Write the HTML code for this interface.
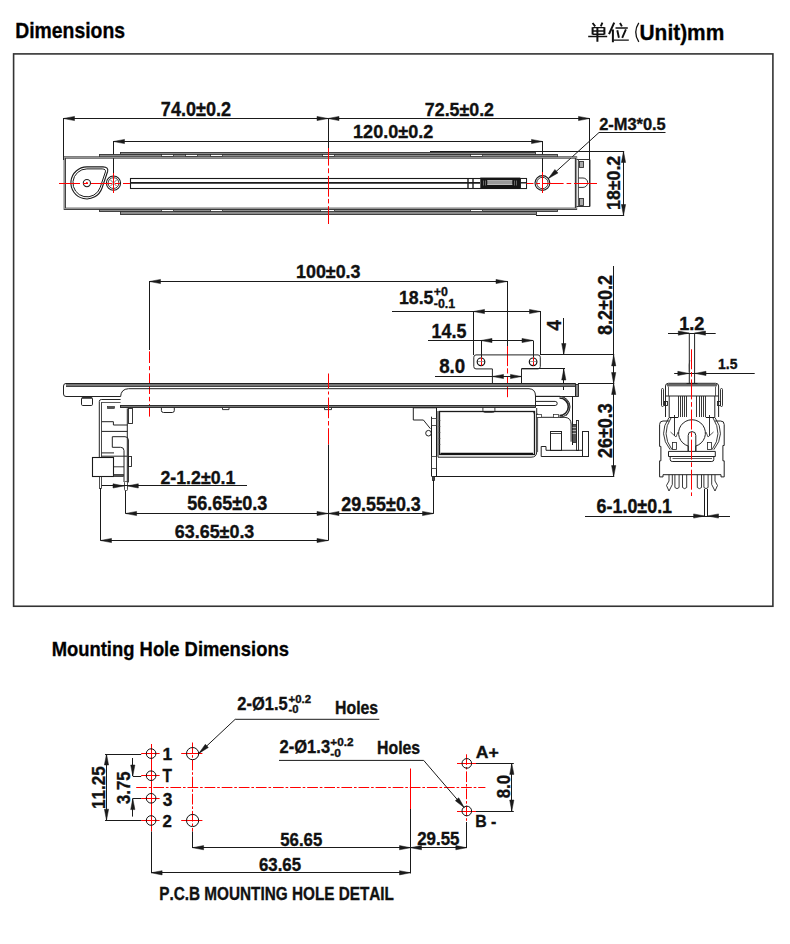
<!DOCTYPE html>
<html><head><meta charset="utf-8"><style>
html,body{margin:0;padding:0;background:#fff;}
body{width:790px;height:944px;overflow:hidden;position:relative;}
svg{position:absolute;left:0;top:0;}
text{font-family:"Liberation Sans",sans-serif;font-weight:bold;font-kerning:none;stroke:#111;stroke-width:0.35px;}
</style></head><body>
<svg width="790" height="944" viewBox="0 0 790 944">
<text x="15.2" y="38" font-size="21.8" textLength="109.89" lengthAdjust="spacingAndGlyphs" fill="#000">Dimensions</text>
<text x="639.54" y="40.2" font-size="22.09" textLength="84.75" lengthAdjust="spacingAndGlyphs" fill="#000">Unit)mm</text>
<path d="M638.8,22.8 Q632.6,32.2 638.8,41.8" stroke="#111" stroke-width="1.3" fill="none"/>
<path d="M592.6,23 L595.2,26.4 M602.4,22.6 L600.8,26.4" stroke="#111" fill="none" stroke-linecap="butt" stroke-width="1.9"/>
<path d="M592.6,27.2 V34.5 M604.4,27.2 V34.5 M597.4,27 V41.8" stroke="#111" fill="none" stroke-linecap="butt" stroke-width="2.0"/>
<path d="M592.6,27.6 H604.4 M592.6,31 H604.4 M592.6,34.3 H604.4 M588.2,36.4 H607.2" stroke="#111" fill="none" stroke-linecap="butt" stroke-width="1.45"/>
<path d="M614.2,22.6 L609,34.2 M612.9,29.4 V42.3" stroke="#111" fill="none" stroke-linecap="butt" stroke-width="2.0"/>
<path d="M620,23 L621.9,26.4 M617.3,30.2 L618.9,37.8 M625.9,29.4 L622.2,37.8" stroke="#111" fill="none" stroke-linecap="butt" stroke-width="1.9"/>
<path d="M615.5,28 H627.8 M613.6,40.1 H628.8" stroke="#111" fill="none" stroke-linecap="butt" stroke-width="1.45"/>
<rect x="13.6" y="53.9" width="759.3" height="552.35" rx="0" stroke="#333" stroke-width="1.6" fill="none"/>
<text x="51.67" y="655.9" font-size="20.64" textLength="237.29" lengthAdjust="spacingAndGlyphs" fill="#000">Mounting Hole Dimensions</text>
<text x="160.82" y="115.7" font-size="19.77" textLength="70.3" lengthAdjust="spacingAndGlyphs" fill="#111">74.0±0.2</text>
<text x="424.83" y="115.6" font-size="19.04" textLength="69.18" lengthAdjust="spacingAndGlyphs" fill="#111">72.5±0.2</text>
<text x="353.06" y="138.4" font-size="19.04" textLength="80.26" lengthAdjust="spacingAndGlyphs" fill="#111">120.0±0.2</text>
<text x="599.13" y="129.7" font-size="17.3" textLength="66.63" lengthAdjust="spacingAndGlyphs" fill="#111">2-M3*0.5</text>
<text transform="translate(620,208.8) rotate(-90)" x="-1.12" y="0" font-size="18.9" textLength="54.13" lengthAdjust="spacingAndGlyphs" fill="#111">18±0.2</text>
<line x1="63.5" y1="118.5" x2="589.5" y2="118.5" stroke="#1a1a1a" stroke-width="1" />
<path d="M63.5,118.5 L74.5,116.4 L74.5,120.6 Z" fill="#1a1a1a" stroke="#1a1a1a" stroke-width="0.5" stroke-linejoin="miter"/>
<path d="M328,118.5 L317,120.6 L317,116.4 Z" fill="#1a1a1a" stroke="#1a1a1a" stroke-width="0.5" stroke-linejoin="miter"/>
<path d="M328,118.5 L339,116.4 L339,120.6 Z" fill="#1a1a1a" stroke="#1a1a1a" stroke-width="0.5" stroke-linejoin="miter"/>
<path d="M589.5,118.5 L578.5,120.6 L578.5,116.4 Z" fill="#1a1a1a" stroke="#1a1a1a" stroke-width="0.5" stroke-linejoin="miter"/>
<line x1="113.5" y1="141.5" x2="542.5" y2="141.5" stroke="#1a1a1a" stroke-width="1" />
<path d="M113.5,141.5 L124.5,139.4 L124.5,143.6 Z" fill="#1a1a1a" stroke="#1a1a1a" stroke-width="0.5" stroke-linejoin="miter"/>
<path d="M542.5,141.5 L531.5,143.6 L531.5,139.4 Z" fill="#1a1a1a" stroke="#1a1a1a" stroke-width="0.5" stroke-linejoin="miter"/>
<line x1="63.5" y1="118" x2="63.5" y2="160" stroke="#1a1a1a" stroke-width="1" />
<line x1="328.5" y1="118" x2="328.5" y2="149" stroke="#1a1a1a" stroke-width="1" />
<line x1="113.5" y1="141" x2="113.5" y2="175" stroke="#1a1a1a" stroke-width="1" />
<line x1="542.5" y1="141" x2="542.5" y2="174" stroke="#1a1a1a" stroke-width="1" />
<line x1="589.5" y1="118" x2="589.5" y2="206.5" stroke="#1a1a1a" stroke-width="1" />
<path d="M665.5,132.5 L599,132.5 L548.3,178.6" stroke="#1a1a1a" stroke-width="1" fill="none" />
<path d="M548.3,178.6 L554.9,169.51 L557.99,172.91 Z" fill="#1a1a1a" stroke="#1a1a1a" stroke-width="0.5" stroke-linejoin="miter"/>
<line x1="430" y1="151.5" x2="624.2" y2="151.5" stroke="#1a1a1a" stroke-width="1" />
<line x1="536" y1="215.5" x2="624.2" y2="215.5" stroke="#1a1a1a" stroke-width="1" />
<line x1="623.5" y1="151.5" x2="623.5" y2="215.5" stroke="#1a1a1a" stroke-width="1" />
<path d="M623.5,151.5 L625.6,162.5 L621.4,162.5 Z" fill="#1a1a1a" stroke="#1a1a1a" stroke-width="0.5" stroke-linejoin="miter"/>
<path d="M623.5,215.5 L621.4,204.5 L625.6,204.5 Z" fill="#1a1a1a" stroke="#1a1a1a" stroke-width="0.5" stroke-linejoin="miter"/>
<rect x="120.5" y="152.5" width="415" height="2" rx="0" stroke="#333" stroke-width="0.9" fill="#8c8c8c"/>
<rect x="99.5" y="154.5" width="458" height="3" rx="0" stroke="#333" stroke-width="0.9" fill="#8c8c8c"/>
<rect x="161.5" y="154.5" width="12" height="2" rx="0" stroke="#222" stroke-width="0.7" fill="#fff"/>
<rect x="185.5" y="154.5" width="12" height="2" rx="0" stroke="#222" stroke-width="0.7" fill="#fff"/>
<rect x="210.5" y="154.5" width="12" height="2" rx="0" stroke="#222" stroke-width="0.7" fill="#fff"/>
<rect x="322.5" y="154.5" width="12" height="2" rx="0" stroke="#222" stroke-width="0.7" fill="#fff"/>
<rect x="470.5" y="154.5" width="12" height="2" rx="0" stroke="#222" stroke-width="0.7" fill="#fff"/>
<rect x="99.5" y="209.5" width="458" height="2" rx="0" stroke="#333" stroke-width="0.9" fill="#8c8c8c"/>
<rect x="120.5" y="211.5" width="416" height="3" rx="0" stroke="#333" stroke-width="0.9" fill="#8c8c8c"/>
<rect x="161.5" y="209.5" width="12" height="2" rx="0" stroke="#222" stroke-width="0.7" fill="#fff"/>
<rect x="210.5" y="209.5" width="12" height="2" rx="0" stroke="#222" stroke-width="0.7" fill="#fff"/>
<rect x="320.5" y="209.5" width="14" height="2" rx="0" stroke="#222" stroke-width="0.7" fill="#fff"/>
<rect x="470.5" y="209.5" width="12" height="2" rx="0" stroke="#222" stroke-width="0.7" fill="#fff"/>
<rect x="64.8" y="157.5" width="511.2" height="51.3" rx="0" stroke="#3a3a3a" stroke-width="2.3" fill="none"/>
<rect x="64.5" y="157.5" width="512" height="51" rx="0" stroke="#aaa" stroke-width="0.8" fill="none"/>
<path d="M86.9,166.9 L103,166.9 Q108.8,167.2 107.6,171.5 L102.05,188.04 A16,16 0 1,1 86.9,166.9 Z" stroke="#1a1a1a" stroke-width="1.1" fill="none" />
<path d="M86.9,168.9 L102.2,168.9 Q106.2,169.2 105.4,171.9 L100.2,187.4 A14,14 0 1,1 86.9,168.9 Z" stroke="#1a1a1a" stroke-width="1.0" fill="none" />
<circle cx="86.9" cy="183.1" r="3.6" stroke="#222" stroke-width="1.1" fill="none"/>
<circle cx="86.9" cy="183.1" r="1" stroke="none" stroke-width="0" fill="#f00"/>
<circle cx="113.5" cy="183.1" r="7.1" stroke="#1a1a1a" stroke-width="1.1" fill="none"/>
<circle cx="113.5" cy="183.1" r="5.4" stroke="#222" stroke-width="0.9" fill="none"/>
<path d="M110.5,180 L116.5,186 M110.5,186 L116.5,180" stroke="#333" stroke-width="0.7" fill="none" />
<circle cx="542.4" cy="183" r="7.4" stroke="#1a1a1a" stroke-width="1.1" fill="none"/>
<circle cx="542.4" cy="183" r="5.7" stroke="#222" stroke-width="0.9" fill="none"/>
<rect x="130.5" y="178.5" width="396" height="10" rx="0" stroke="#1a1a1a" stroke-width="1.1" fill="none"/>
<line x1="130" y1="182.8" x2="480" y2="182.8" stroke="#1a1a1a" stroke-width="1.8" />
<line x1="467.5" y1="178" x2="467.5" y2="188" stroke="#1a1a1a" stroke-width="0.7" />
<line x1="468.5" y1="178" x2="468.5" y2="188" stroke="#1a1a1a" stroke-width="0.7" />
<line x1="472.5" y1="178" x2="472.5" y2="188" stroke="#1a1a1a" stroke-width="0.7" />
<line x1="473.5" y1="178" x2="473.5" y2="188" stroke="#1a1a1a" stroke-width="0.7" />
<rect x="480.3" y="177.6" width="40" height="11.1" rx="0" stroke="none" stroke-width="0" fill="#151515"/>
<rect x="487.3" y="180.4" width="25" height="4.6" rx="0" stroke="none" stroke-width="0" fill="#9a9a9a"/>
<line x1="487.3" y1="180.5" x2="512.3" y2="180.5" stroke="#ccc" stroke-width="0.7" />
<line x1="487.3" y1="184.5" x2="512.3" y2="184.5" stroke="#ccc" stroke-width="0.7" />
<line x1="483.5" y1="180.5" x2="483.5" y2="185.5" stroke="#888" stroke-width="0.7" />
<line x1="485.5" y1="180.5" x2="485.5" y2="185.5" stroke="#888" stroke-width="0.7" />
<line x1="514.5" y1="180.5" x2="514.5" y2="185.5" stroke="#888" stroke-width="0.7" />
<line x1="516.5" y1="180.5" x2="516.5" y2="185.5" stroke="#888" stroke-width="0.7" />
<rect x="520.5" y="178.5" width="6" height="10" rx="0" stroke="#222" stroke-width="1" fill="#fff"/>
<line x1="520.3" y1="182.8" x2="526.8" y2="182.8" stroke="#1a1a1a" stroke-width="1.4" />
<path d="M576.5,159.5 L590,159.5 L590,206.5 L576.5,206.5" stroke="#333" stroke-width="1" fill="none" />
<line x1="578.5" y1="159.5" x2="578.5" y2="206.5" stroke="#444" stroke-width="0.9" />
<rect x="579.5" y="161.5" width="4" height="6" rx="0" stroke="#333" stroke-width="0.9" fill="#aaa"/>
<rect x="579.5" y="198.5" width="4" height="7" rx="0" stroke="#333" stroke-width="0.9" fill="#aaa"/>
<path d="M578.5,178 H583 A4.7,4.7 0 0 1 583,187.4 H578.5" stroke="#333" stroke-width="1" fill="none" />
<line x1="59" y1="183.5" x2="130" y2="183.5" stroke="#ff0000" stroke-width="1" stroke-dasharray="21 3 5 3"/>
<line x1="526.5" y1="183.5" x2="597" y2="183.5" stroke="#ff0000" stroke-width="1" stroke-dasharray="7 2.5 4 3 20.6 3 4.6 2.8 30"/>
<line x1="328.5" y1="148" x2="328.5" y2="224" stroke="#ff0000" stroke-width="1" stroke-dasharray="17.6 2.7 4.9 2.7 20.8 2.2 4.5 2.7 20"/>
<line x1="113.5" y1="173" x2="113.5" y2="193" stroke="#ff0000" stroke-width="1" />
<line x1="542.5" y1="172" x2="542.5" y2="193" stroke="#ff0000" stroke-width="1" />
<text x="295.97" y="278.3" font-size="18.75" textLength="64.57" lengthAdjust="spacingAndGlyphs" fill="#111">100±0.3</text>
<text x="398.98" y="303.8" font-size="18.9" textLength="34.51" lengthAdjust="spacingAndGlyphs" fill="#111">18.5</text>
<text x="433.78" y="295.9" font-size="12.21" textLength="14.13" lengthAdjust="spacingAndGlyphs" fill="#111">+0</text>
<text x="433.82" y="308.3" font-size="13.52" textLength="21.33" lengthAdjust="spacingAndGlyphs" fill="#111">-0.1</text>
<text x="431.57" y="337.8" font-size="19.33" textLength="34.83" lengthAdjust="spacingAndGlyphs" fill="#111">14.5</text>
<text x="439.2" y="373.4" font-size="19.33" textLength="26.06" lengthAdjust="spacingAndGlyphs" fill="#111">8.0</text>
<text transform="translate(560.7,330.3) rotate(-90)" x="-0.28" y="0" font-size="19.62" textLength="10.38" lengthAdjust="spacingAndGlyphs" fill="#111">4</text>
<text transform="translate(612,334.4) rotate(-90)" x="-0.57" y="0" font-size="20.93" textLength="59.89" lengthAdjust="spacingAndGlyphs" fill="#111">8.2±0.2</text>
<text transform="translate(611.6,457.5) rotate(-90)" x="-0.62" y="0" font-size="20.35" textLength="54.87" lengthAdjust="spacingAndGlyphs" fill="#111">26±0.3</text>
<line x1="149.5" y1="281.5" x2="507" y2="281.5" stroke="#1a1a1a" stroke-width="1" />
<path d="M149.5,281.5 L160.5,279.4 L160.5,283.6 Z" fill="#1a1a1a" stroke="#1a1a1a" stroke-width="0.5" stroke-linejoin="miter"/>
<path d="M507,281.5 L496,283.6 L496,279.4 Z" fill="#1a1a1a" stroke="#1a1a1a" stroke-width="0.5" stroke-linejoin="miter"/>
<line x1="149.5" y1="281" x2="149.5" y2="350" stroke="#1a1a1a" stroke-width="1" />
<line x1="507.5" y1="281" x2="507.5" y2="346.5" stroke="#1a1a1a" stroke-width="1" />
<line x1="149.5" y1="351.3" x2="149.5" y2="416.6" stroke="#ff0000" stroke-width="1" stroke-dasharray="11.7 3.1 4.1 3.1 20.7 2.8 4.5 2.7 20"/>
<line x1="507.5" y1="346.1" x2="507.5" y2="397.2" stroke="#ff0000" stroke-width="1" stroke-dasharray="20 2.2 5.2 3 30"/>
<line x1="392" y1="311.5" x2="540.5" y2="311.5" stroke="#1a1a1a" stroke-width="1" />
<path d="M473.5,311.5 L484.5,309.4 L484.5,313.6 Z" fill="#1a1a1a" stroke="#1a1a1a" stroke-width="0.5" stroke-linejoin="miter"/>
<path d="M540.5,311.5 L529.5,313.6 L529.5,309.4 Z" fill="#1a1a1a" stroke="#1a1a1a" stroke-width="0.5" stroke-linejoin="miter"/>
<line x1="473.5" y1="311" x2="473.5" y2="355" stroke="#1a1a1a" stroke-width="1" />
<line x1="540.5" y1="311" x2="540.5" y2="355" stroke="#1a1a1a" stroke-width="1" />
<line x1="428" y1="340.5" x2="533" y2="340.5" stroke="#1a1a1a" stroke-width="1" />
<path d="M481,340.5 L492,338.4 L492,342.6 Z" fill="#1a1a1a" stroke="#1a1a1a" stroke-width="0.5" stroke-linejoin="miter"/>
<path d="M533,340.5 L522,342.6 L522,338.4 Z" fill="#1a1a1a" stroke="#1a1a1a" stroke-width="0.5" stroke-linejoin="miter"/>
<line x1="481.5" y1="340.5" x2="481.5" y2="357.5" stroke="#1a1a1a" stroke-width="1" />
<line x1="533.5" y1="340.5" x2="533.5" y2="357.5" stroke="#1a1a1a" stroke-width="1" />
<line x1="435" y1="376.5" x2="521.5" y2="376.5" stroke="#1a1a1a" stroke-width="1" />
<path d="M492.5,376.5 L503.5,374.4 L503.5,378.6 Z" fill="#1a1a1a" stroke="#1a1a1a" stroke-width="0.5" stroke-linejoin="miter"/>
<path d="M521.5,376.5 L510.5,378.6 L510.5,374.4 Z" fill="#1a1a1a" stroke="#1a1a1a" stroke-width="0.5" stroke-linejoin="miter"/>
<line x1="563.5" y1="318" x2="563.5" y2="354.5" stroke="#1a1a1a" stroke-width="1" />
<path d="M563.8,354.5 L561.7,343.5 L565.9,343.5 Z" fill="#1a1a1a" stroke="#1a1a1a" stroke-width="0.5" stroke-linejoin="miter"/>
<line x1="563.5" y1="369" x2="563.5" y2="390" stroke="#1a1a1a" stroke-width="1" />
<path d="M563.8,369 L565.9,380 L561.7,380 Z" fill="#1a1a1a" stroke="#1a1a1a" stroke-width="0.5" stroke-linejoin="miter"/>
<line x1="521.5" y1="368.5" x2="565" y2="368.5" stroke="#1a1a1a" stroke-width="1" />
<line x1="540.5" y1="354.5" x2="614.2" y2="354.5" stroke="#1a1a1a" stroke-width="1" />
<line x1="613.5" y1="266" x2="613.5" y2="476.6" stroke="#1a1a1a" stroke-width="1" />
<path d="M613.7,354.9 L615.8,365.9 L611.6,365.9 Z" fill="#1a1a1a" stroke="#1a1a1a" stroke-width="0.5" stroke-linejoin="miter"/>
<path d="M613.7,383.5 L611.6,372.5 L615.8,372.5 Z" fill="#1a1a1a" stroke="#1a1a1a" stroke-width="0.5" stroke-linejoin="miter"/>
<path d="M613.7,383.5 L615.8,394.5 L611.6,394.5 Z" fill="#1a1a1a" stroke="#1a1a1a" stroke-width="0.5" stroke-linejoin="miter"/>
<path d="M613.7,476.6 L611.6,465.6 L615.8,465.6 Z" fill="#1a1a1a" stroke="#1a1a1a" stroke-width="0.5" stroke-linejoin="miter"/>
<line x1="578" y1="383.5" x2="614.2" y2="383.5" stroke="#1a1a1a" stroke-width="1" />
<line x1="433" y1="476.5" x2="614.2" y2="476.5" stroke="#1a1a1a" stroke-width="1" />
<path d="M476,354.9 H538 Q540.3,354.9 540.3,357.2 V366.6 Q540.3,368.9 538,368.9 H521.5 V383 M492.4,383 V368.9 H476 Q473.8,368.9 473.8,366.6 V357.2 Q473.8,354.9 476,354.9" stroke="#222" stroke-width="1" fill="none" />
<line x1="487" y1="383.5" x2="526.5" y2="383.5" stroke="#1a1a1a" stroke-width="1.2" />
<circle cx="481" cy="361.8" r="3.8" stroke="#111" stroke-width="1.2" fill="none"/>
<circle cx="533.1" cy="361.8" r="3.8" stroke="#111" stroke-width="1.2" fill="none"/>
<line x1="481.5" y1="357.4" x2="481.5" y2="365.8" stroke="#ff0000" stroke-width="1" />
<line x1="478" y1="361.5" x2="484" y2="361.5" stroke="#888" stroke-width="0.8" />
<line x1="533.5" y1="357.4" x2="533.5" y2="365.8" stroke="#ff0000" stroke-width="1" />
<line x1="530.1" y1="361.5" x2="536.1" y2="361.5" stroke="#888" stroke-width="0.8" />
<path d="M66,383.5 H575.5 V396.5 H535.5" stroke="#2a2a2a" stroke-width="1" fill="none" />
<rect x="66" y="383.3" width="509.5" height="3" rx="0" stroke="none" stroke-width="0" fill="#777"/>
<line x1="66" y1="383.5" x2="575.5" y2="383.5" stroke="#222" stroke-width="1" />
<line x1="66" y1="386.5" x2="575.5" y2="386.5" stroke="#333" stroke-width="0.9" />
<path d="M66,383.5 Q63.5,383.5 63.5,386 V394 Q63.5,396.5 66,396.5 H120.6" stroke="#222" stroke-width="1" fill="none" />
<rect x="575.5" y="384.5" width="3" height="12" rx="0" stroke="#222" stroke-width="0.9" fill="#888"/>
<path d="M120.6,396.7 Q121,389 128.5,388.7 H529 Q535.5,389 535.5,396 V406.6" stroke="#222" stroke-width="1" fill="none" />
<rect x="120.5" y="405.5" width="415" height="2" rx="0" stroke="#222" stroke-width="0.9" fill="#777"/>
<path d="M161.4,407.8 V410.5 Q161.4,412.5 163.5,412.5 H172.3 Q174.3,412.5 174.3,410.5 V407.8" stroke="#222" stroke-width="1" fill="none" />
<path d="M222.5,407.8 V409.6 H229 V407.8" stroke="#222" stroke-width="0.9" fill="none" />
<path d="M324.5,407.8 V409.6 H331.5 V407.8" stroke="#222" stroke-width="0.9" fill="none" />
<path d="M482.9,407.8 V410.5 Q482.9,412.3 485,412.3 H492.8 Q494.9,412.3 494.9,410.5 V407.8" stroke="#222" stroke-width="0.9" fill="none" />
<rect x="81.5" y="397.5" width="11" height="8" rx="1.2" stroke="#222" stroke-width="1" fill="none"/>
<line x1="82" y1="398" x2="92" y2="398" stroke="#333" stroke-width="1.6" />
<path d="M99.3,457.3 V401.5 Q99.3,399.5 101.3,399.5 H120.6" stroke="#222" stroke-width="1" fill="none" />
<line x1="101.5" y1="402" x2="101.5" y2="457.3" stroke="#333" stroke-width="0.9" />
<line x1="102" y1="402.5" x2="120.6" y2="402.5" stroke="#333" stroke-width="0.8" />
<rect x="107.5" y="406.5" width="7" height="2" rx="0" stroke="#222" stroke-width="0.6" fill="#555"/>
<path d="M127.3,408.4 V482.4 M128.4,440 V482.4" stroke="#222" stroke-width="1" fill="none" />
<rect x="128.5" y="408.5" width="4" height="15" rx="0" stroke="#222" stroke-width="0.9" fill="none"/>
<path d="M101.7,421.7 H113.4 V425 H127.3 M101.7,431.4 H127.3" stroke="#222" stroke-width="1" fill="none" />
<path d="M112.3,447.3 V436.7 H125 Q128.4,436.7 128.4,440 M112.3,447.3 H120.6 Q124,447.3 124,450.6 V482 M101.7,452.9 H114 M101.7,456.2 H127.3" stroke="#222" stroke-width="1" fill="none" />
<path d="M113.9,466.8 H124" stroke="#222" stroke-width="0.9" fill="none" />
<rect x="92.5" y="457.5" width="21" height="19" rx="0" stroke="#1a1a1a" stroke-width="1.1" fill="none"/>
<rect x="113.5" y="474.5" width="10" height="2" rx="0" stroke="#222" stroke-width="0.7" fill="#555"/>
<rect x="128.5" y="456.5" width="3" height="10" rx="0" stroke="#222" stroke-width="0.9" fill="none"/>
<rect x="99.5" y="476.5" width="2" height="12" rx="0" stroke="#222" stroke-width="0.8" fill="none"/>
<rect x="124.5" y="481.5" width="3" height="9" rx="1" stroke="#222" stroke-width="0.8" fill="none"/>
<path d="M436.7,407.8 H413.3 V420 H423.4 L430.4,428.7" stroke="#222" stroke-width="1" fill="none" />
<circle cx="428.5" cy="433.2" r="2.8" stroke="#222" stroke-width="1" fill="none"/>
<line x1="431.5" y1="416.7" x2="431.5" y2="476.6" stroke="#1a1a1a" stroke-width="1" />
<line x1="436.5" y1="407.8" x2="436.5" y2="476.6" stroke="#1a1a1a" stroke-width="1" />
<rect x="431.5" y="418.5" width="5" height="7" rx="0" stroke="#333" stroke-width="0.8" fill="none"/>
<rect x="431.5" y="456.5" width="5" height="12" rx="0" stroke="#333" stroke-width="0.8" fill="none"/>
<rect x="432.5" y="476.5" width="2" height="4" rx="0" stroke="#222" stroke-width="0.8" fill="#444"/>
<rect x="439.5" y="411.5" width="95" height="43" rx="0" stroke="#1a1a1a" stroke-width="1.3" fill="none"/>
<path d="M438,411 V457.2 H531 Q536.7,457.2 536.7,452 V408" stroke="#222" stroke-width="1" fill="none" />
<line x1="440.5" y1="453.5" x2="533" y2="453.5" stroke="#111" stroke-width="1.6" />
<line x1="438.5" y1="420.5" x2="440.5" y2="420.5" stroke="#444" stroke-width="0.6" />
<line x1="438.5" y1="426.5" x2="440.5" y2="426.5" stroke="#444" stroke-width="0.6" />
<line x1="438.5" y1="432.5" x2="440.5" y2="432.5" stroke="#444" stroke-width="0.6" />
<line x1="438.5" y1="438.5" x2="440.5" y2="438.5" stroke="#444" stroke-width="0.6" />
<line x1="438.5" y1="444.5" x2="440.5" y2="444.5" stroke="#444" stroke-width="0.6" />
<path d="M535.7,396.3 H559.5 A10.5,10.5 0 0 1 559.5,417.3 H537" stroke="#222" stroke-width="1" fill="none" />
<path d="M559.5,398 A8.8,8.8 0 0 1 559.5,415.6" stroke="#222" stroke-width="1.6" fill="none" />
<path d="M561,396.3 A12,12 0 0 1 566,416" stroke="#333" stroke-width="0.8" fill="none" />
<path d="M536,401.4 H555.2 Q557.2,401.4 557.2,403.4 Q557.2,405.5 555.2,405.5 H536" stroke="#222" stroke-width="1" fill="none" />
<path d="M559.5,417.3 H565 Q571.1,418 571.1,424 V441.7" stroke="#222" stroke-width="1" fill="none" />
<line x1="572.5" y1="396.3" x2="572.5" y2="445" stroke="#1a1a1a" stroke-width="1" />
<rect x="572.5" y="424.5" width="4" height="18" rx="0" stroke="#222" stroke-width="0.8" fill="#555"/>
<line x1="572.6" y1="427.5" x2="576" y2="427.5" stroke="#ddd" stroke-width="0.7" />
<line x1="572.6" y1="430.5" x2="576" y2="430.5" stroke="#ddd" stroke-width="0.7" />
<line x1="572.6" y1="433.5" x2="576" y2="433.5" stroke="#ddd" stroke-width="0.7" />
<path d="M588.4,456.5 H541.2 V446.5 H546 V450.3 H582.2" stroke="#222" stroke-width="1" fill="none" />
<rect x="550.5" y="431.5" width="11" height="19" rx="0" stroke="#222" stroke-width="1" fill="none"/>
<line x1="550.9" y1="433.5" x2="561" y2="433.5" stroke="#1a1a1a" stroke-width="0.8" />
<rect x="576.5" y="420.5" width="2" height="30" rx="0" stroke="#222" stroke-width="0.9" fill="none"/>
<rect x="582.5" y="431.5" width="6" height="25" rx="0" stroke="#222" stroke-width="1" fill="none"/>
<path d="M537.6,413.4 V452 M533.6,412 V413.4" stroke="#333" stroke-width="0.8" fill="none" />
<rect x="536.5" y="414.5" width="5" height="3" rx="0" stroke="#222" stroke-width="0.7" fill="#fff"/>
<rect x="553.5" y="414.5" width="5" height="3" rx="0" stroke="#222" stroke-width="0.7" fill="#fff"/>
<line x1="328.5" y1="373.5" x2="328.5" y2="444.6" stroke="#ff0000" stroke-width="1" stroke-dasharray="15 3 3 3 20.7 2.8 4.5 2.7 20"/>
<line x1="328.5" y1="444.6" x2="328.5" y2="540.7" stroke="#1a1a1a" stroke-width="1" />
<text x="160.49" y="483.5" font-size="18.75" textLength="74.81" lengthAdjust="spacingAndGlyphs" fill="#111">2-1.2±0.1</text>
<text x="187.14" y="510.3" font-size="19.48" textLength="80.21" lengthAdjust="spacingAndGlyphs" fill="#111">56.65±0.3</text>
<text x="341.18" y="510.5" font-size="19.33" textLength="79.67" lengthAdjust="spacingAndGlyphs" fill="#111">29.55±0.3</text>
<text x="174.84" y="537.6" font-size="18.9" textLength="79.5" lengthAdjust="spacingAndGlyphs" fill="#111">63.65±0.3</text>
<line x1="101.7" y1="485.5" x2="247" y2="485.5" stroke="#1a1a1a" stroke-width="1" />
<path d="M124,485.9 L113,488 L113,483.8 Z" fill="#1a1a1a" stroke="#1a1a1a" stroke-width="0.5" stroke-linejoin="miter"/>
<path d="M127.3,485.9 L138.3,483.8 L138.3,488 Z" fill="#1a1a1a" stroke="#1a1a1a" stroke-width="0.5" stroke-linejoin="miter"/>
<line x1="125.5" y1="490.7" x2="125.5" y2="513.5" stroke="#1a1a1a" stroke-width="1" />
<line x1="100.5" y1="488" x2="100.5" y2="540.7" stroke="#1a1a1a" stroke-width="1" />
<line x1="433.5" y1="480" x2="433.5" y2="513.5" stroke="#1a1a1a" stroke-width="1" />
<line x1="125.6" y1="513.5" x2="433.5" y2="513.5" stroke="#1a1a1a" stroke-width="1" />
<path d="M125.6,513.5 L136.6,511.4 L136.6,515.6 Z" fill="#1a1a1a" stroke="#1a1a1a" stroke-width="0.5" stroke-linejoin="miter"/>
<path d="M328,513.5 L317,515.6 L317,511.4 Z" fill="#1a1a1a" stroke="#1a1a1a" stroke-width="0.5" stroke-linejoin="miter"/>
<path d="M328,513.5 L339,511.4 L339,515.6 Z" fill="#1a1a1a" stroke="#1a1a1a" stroke-width="0.5" stroke-linejoin="miter"/>
<path d="M433.5,513.5 L422.5,515.6 L422.5,511.4 Z" fill="#1a1a1a" stroke="#1a1a1a" stroke-width="0.5" stroke-linejoin="miter"/>
<line x1="100.8" y1="540.5" x2="328" y2="540.5" stroke="#1a1a1a" stroke-width="1" />
<path d="M100.5,540.5 L111.5,538.4 L111.5,542.6 Z" fill="#1a1a1a" stroke="#1a1a1a" stroke-width="0.5" stroke-linejoin="miter"/>
<path d="M328,540.5 L317,542.6 L317,538.4 Z" fill="#1a1a1a" stroke="#1a1a1a" stroke-width="0.5" stroke-linejoin="miter"/>
<text x="679.26" y="329.6" font-size="17.59" textLength="25.17" lengthAdjust="spacingAndGlyphs" fill="#111">1.2</text>
<text x="718.02" y="369" font-size="15.55" textLength="19.37" lengthAdjust="spacingAndGlyphs" fill="#111">1.5</text>
<text x="596.54" y="512.8" font-size="19.33" textLength="75.55" lengthAdjust="spacingAndGlyphs" fill="#111">6-1.0±0.1</text>
<line x1="668" y1="333.5" x2="715.7" y2="333.5" stroke="#1a1a1a" stroke-width="1" />
<path d="M689.3,333.1 L678.3,335.2 L678.3,331 Z" fill="#1a1a1a" stroke="#1a1a1a" stroke-width="0.5" stroke-linejoin="miter"/>
<path d="M694.5,333.1 L705.5,331 L705.5,335.2 Z" fill="#1a1a1a" stroke="#1a1a1a" stroke-width="0.5" stroke-linejoin="miter"/>
<line x1="674.2" y1="373.5" x2="754.7" y2="373.5" stroke="#1a1a1a" stroke-width="1" />
<path d="M688.8,373.4 L677.8,375.5 L677.8,371.3 Z" fill="#1a1a1a" stroke="#1a1a1a" stroke-width="0.5" stroke-linejoin="miter"/>
<path d="M695,373.4 L706,371.3 L706,375.5 Z" fill="#1a1a1a" stroke="#1a1a1a" stroke-width="0.5" stroke-linejoin="miter"/>
<line x1="585" y1="516.5" x2="730" y2="516.5" stroke="#1a1a1a" stroke-width="1" />
<path d="M704.6,516 L693.6,518.1 L693.6,513.9 Z" fill="#1a1a1a" stroke="#1a1a1a" stroke-width="0.5" stroke-linejoin="miter"/>
<path d="M707.5,516 L718.5,513.9 L718.5,518.1 Z" fill="#1a1a1a" stroke="#1a1a1a" stroke-width="0.5" stroke-linejoin="miter"/>
<line x1="704.5" y1="489" x2="704.5" y2="516.5" stroke="#1a1a1a" stroke-width="1" />
<line x1="707.5" y1="489" x2="707.5" y2="516.5" stroke="#1a1a1a" stroke-width="1" />
<path d="M689.3,333 V383.2 M694.6,333 V383.2" stroke="#222" stroke-width="1" fill="none" />
<path d="M689.8,360 Q688.8,364 689.3,372" stroke="#333" stroke-width="0.8" fill="none" />
<path d="M686.5,383.5 H697.5" stroke="#222" stroke-width="1" fill="none" />
<path d="M665.5,396 V386 Q665.5,383.3 668.5,383.3 H715.6 Q718.6,383.3 718.6,386 V396 H665.5" stroke="#222" stroke-width="1" fill="none" />
<rect x="667" y="384" width="50" height="2.4" rx="0" stroke="none" stroke-width="0" fill="#666"/>
<line x1="668.5" y1="386.5" x2="668.5" y2="396" stroke="#333" stroke-width="0.8" />
<line x1="715.5" y1="386.5" x2="715.5" y2="396" stroke="#333" stroke-width="0.8" />
<rect x="661.5" y="388.5" width="2" height="18" rx="1" stroke="#222" stroke-width="0.9" fill="none"/>
<rect x="664.5" y="401.5" width="3" height="4" rx="0" stroke="#222" stroke-width="0.9" fill="none"/>
<rect x="720.5" y="388.5" width="2" height="18" rx="1" stroke="#222" stroke-width="0.9" fill="none"/>
<rect x="717.5" y="401.5" width="3" height="4" rx="0" stroke="#222" stroke-width="0.9" fill="none"/>
<path d="M665.5,396 V417 M669.2,396 V417 M714.8,396 V417 M718.6,396 V417" stroke="#222" stroke-width="1" fill="none" />
<line x1="678.5" y1="396" x2="678.5" y2="417" stroke="#222" stroke-width="0.9" />
<line x1="680.5" y1="396" x2="680.5" y2="417" stroke="#222" stroke-width="0.9" />
<line x1="682.5" y1="396" x2="682.5" y2="417" stroke="#222" stroke-width="0.9" />
<line x1="684.5" y1="396" x2="684.5" y2="417" stroke="#222" stroke-width="0.9" />
<line x1="686.5" y1="396" x2="686.5" y2="417" stroke="#222" stroke-width="0.9" />
<line x1="696.5" y1="396" x2="696.5" y2="417" stroke="#222" stroke-width="0.9" />
<line x1="699.5" y1="396" x2="699.5" y2="417" stroke="#222" stroke-width="0.9" />
<line x1="701.5" y1="396" x2="701.5" y2="417" stroke="#222" stroke-width="0.9" />
<line x1="703.5" y1="396" x2="703.5" y2="417" stroke="#222" stroke-width="0.9" />
<line x1="705.5" y1="396" x2="705.5" y2="417" stroke="#222" stroke-width="0.9" />
<line x1="669.2" y1="417.5" x2="678.3" y2="417.5" stroke="#1a1a1a" stroke-width="1" />
<line x1="705.8" y1="417.5" x2="714.8" y2="417.5" stroke="#1a1a1a" stroke-width="1" />
<path d="M669,421 H663 Q659.6,421 659.6,424.5 V446.4 H660.9 V460.8 H659.6 V476.9 H663 V474.7 H721 V476.9 H724.2 V460.8 H722.9 V445.5 H724.2 V424.5 Q724.2,421 720.7,421 H715" stroke="#222" stroke-width="1" fill="none" />
<path d="M669,417.5 Q657.5,434 670.2,449.7 M671.2,417.5 Q660.5,434 672,449.7" stroke="#222" stroke-width="0.9" fill="none" />
<path d="M715,417.5 Q726.5,434 713.8,449.7 M712.8,417.5 Q723.5,434 712,449.7" stroke="#222" stroke-width="0.9" fill="none" />
<line x1="674.5" y1="415" x2="674.5" y2="436" stroke="#1a1a1a" stroke-width="0.9" />
<line x1="709.5" y1="415" x2="709.5" y2="436" stroke="#1a1a1a" stroke-width="0.9" />
<path d="M670.5,432 L676,437 L678,432 M713.5,432 L708,437 L706,432" stroke="#333" stroke-width="0.8" fill="none" />
<path d="M688.2,451 V446 A13.4,13.4 0 1 1 695.8,446 V451" stroke="#222" stroke-width="1" fill="none" />
<path d="M688.2,451 V435.4 A3.8,3.8 0 0 1 695.8,435.4 V451" stroke="#222" stroke-width="1" fill="none" />
<path d="M668.5,451.4 H715.3 V456.5 H668.5 Z" stroke="#222" stroke-width="1" fill="none" />
<path d="M670.2,456.5 V459.5 Q670.2,461.5 672.2,461.5 H711.8 Q713.8,461.5 713.8,459.5 V456.5" stroke="#222" stroke-width="1" fill="none" />
<line x1="672.5" y1="458.5" x2="712" y2="458.5" stroke="#333" stroke-width="0.8" />
<rect x="672.5" y="442.5" width="4" height="7" rx="0" stroke="#222" stroke-width="0.8" fill="none"/>
<rect x="707.5" y="442.5" width="4" height="7" rx="0" stroke="#222" stroke-width="0.8" fill="none"/>
<path d="M674.9,474.7 V487.5 Q677.0,489.8 679.1,487.5 V474.7" stroke="#222" stroke-width="0.9" fill="none" />
<path d="M682.5,474.7 V487.5 Q684.6,489.8 686.7,487.5 V474.7" stroke="#222" stroke-width="0.9" fill="none" />
<path d="M697.3,474.7 V487.5 Q699.4,489.8 701.5,487.5 V474.7" stroke="#222" stroke-width="0.9" fill="none" />
<path d="M703.9,474.7 V487.5 Q706.0,489.8 708.1,487.5 V474.7" stroke="#222" stroke-width="0.9" fill="none" />
<path d="M669,474.7 V481 L666.5,485.5 L669,491 L672.3,484.5 V474.7" stroke="#222" stroke-width="0.9" fill="none" />
<path d="M715,474.7 V481 L717.5,485.5 L715,491 L711.7,484.5 V474.7" stroke="#222" stroke-width="0.9" fill="none" />
<line x1="691.5" y1="349.3" x2="691.5" y2="496" stroke="#ff0000" stroke-width="1" stroke-dasharray="20 2.7 4.7 2.7"/>
<text x="162.5" y="759.6" font-size="16.86" textLength="9.68" lengthAdjust="spacingAndGlyphs" fill="#111">1</text>
<text x="162.43" y="782.2" font-size="17.44" textLength="9.44" lengthAdjust="spacingAndGlyphs" fill="#111">T</text>
<text x="162.7" y="805.9" font-size="17.59" textLength="9.62" lengthAdjust="spacingAndGlyphs" fill="#111">3</text>
<text x="162.52" y="827" font-size="16.13" textLength="9.36" lengthAdjust="spacingAndGlyphs" fill="#111">2</text>
<text x="237.33" y="709.6" font-size="18.17" textLength="50.43" lengthAdjust="spacingAndGlyphs" fill="#111">2-Ø1.5</text>
<text x="288.52" y="702.6" font-size="10.9" textLength="22.54" lengthAdjust="spacingAndGlyphs" fill="#111">+0.2</text>
<text x="288.56" y="712.8" font-size="10.32" textLength="10" lengthAdjust="spacingAndGlyphs" fill="#111">-0</text>
<text x="335.04" y="713.6" font-size="18.46" textLength="43.11" lengthAdjust="spacingAndGlyphs" fill="#111">Holes</text>
<text x="279.53" y="753.4" font-size="17.88" textLength="50.57" lengthAdjust="spacingAndGlyphs" fill="#111">2-Ø1.3</text>
<text x="330.31" y="745.9" font-size="10.61" textLength="23.16" lengthAdjust="spacingAndGlyphs" fill="#111">+0.2</text>
<text x="330.33" y="757.1" font-size="11.63" textLength="10.66" lengthAdjust="spacingAndGlyphs" fill="#111">-0</text>
<text x="377.04" y="753.6" font-size="18.17" textLength="43.11" lengthAdjust="spacingAndGlyphs" fill="#111">Holes</text>
<text x="475.76" y="757.6" font-size="17.3" textLength="23.05" lengthAdjust="spacingAndGlyphs" fill="#111">A+</text>
<text x="475.14" y="826.7" font-size="16.72" textLength="21.2" lengthAdjust="spacingAndGlyphs" fill="#111">B -</text>
<text x="280.28" y="846" font-size="18.75" textLength="41.98" lengthAdjust="spacingAndGlyphs" fill="#111">56.65</text>
<text x="417.21" y="845.4" font-size="18.02" textLength="42.26" lengthAdjust="spacingAndGlyphs" fill="#111">29.55</text>
<text x="258.98" y="870.5" font-size="17.59" textLength="42.08" lengthAdjust="spacingAndGlyphs" fill="#111">63.65</text>
<text x="159.28" y="899.7" font-size="18.75" textLength="234.69" lengthAdjust="spacingAndGlyphs" fill="#111">P.C.B MOUNTING HOLE DETAIL</text>
<text transform="translate(104.7,808) rotate(-90)" x="-1.08" y="0" font-size="18.46" textLength="42.96" lengthAdjust="spacingAndGlyphs" fill="#111">11.25</text>
<text transform="translate(130.3,803.6) rotate(-90)" x="-0.38" y="0" font-size="17.59" textLength="32.45" lengthAdjust="spacingAndGlyphs" fill="#111">3.75</text>
<text transform="translate(509.7,797.8) rotate(-90)" x="-0.53" y="0" font-size="19.04" textLength="23.43" lengthAdjust="spacingAndGlyphs" fill="#111">8.0</text>
<line x1="136.2" y1="787.5" x2="485.4" y2="787.5" stroke="#ff0000" stroke-width="1" stroke-dasharray="10.7 1.9 2.6 1.9"/>
<line x1="151.5" y1="744" x2="151.5" y2="831.5" stroke="#ff0000" stroke-width="1" />
<line x1="192.5" y1="742.5" x2="192.5" y2="831.5" stroke="#ff0000" stroke-width="1" stroke-dasharray="10.7 1.9 2.6 1.9"/>
<line x1="466.5" y1="754.3" x2="466.5" y2="822" stroke="#ff0000" stroke-width="1" stroke-dasharray="10.7 1.9 2.6 1.9"/>
<line x1="410.5" y1="768.5" x2="410.5" y2="809" stroke="#ff0000" stroke-width="1" />
<line x1="141.2" y1="753.5" x2="159.6" y2="753.5" stroke="#ff0000" stroke-width="1" />
<circle cx="151.1" cy="753.6" r="4.8" stroke="#111" stroke-width="1" fill="none"/>
<line x1="141.2" y1="775.5" x2="159.6" y2="775.5" stroke="#ff0000" stroke-width="1" />
<circle cx="151.1" cy="775.7" r="4.8" stroke="#111" stroke-width="1" fill="none"/>
<line x1="141.2" y1="798.5" x2="159.6" y2="798.5" stroke="#ff0000" stroke-width="1" />
<circle cx="151.1" cy="798.3" r="4.8" stroke="#111" stroke-width="1" fill="none"/>
<line x1="141.2" y1="820.5" x2="159.6" y2="820.5" stroke="#ff0000" stroke-width="1" />
<circle cx="151.1" cy="820.5" r="4.8" stroke="#111" stroke-width="1" fill="none"/>
<line x1="181.2" y1="753.5" x2="202.4" y2="753.5" stroke="#ff0000" stroke-width="1" />
<circle cx="192.6" cy="753.6" r="6.1" stroke="#111" stroke-width="1" fill="none"/>
<line x1="181.2" y1="820.5" x2="202.4" y2="820.5" stroke="#ff0000" stroke-width="1" />
<circle cx="192.6" cy="820.5" r="6.1" stroke="#111" stroke-width="1" fill="none"/>
<line x1="457" y1="763.5" x2="476" y2="763.5" stroke="#ff0000" stroke-width="1" />
<circle cx="466.8" cy="763.4" r="4.8" stroke="#111" stroke-width="1" fill="none"/>
<line x1="457" y1="811.5" x2="476" y2="811.5" stroke="#ff0000" stroke-width="1" />
<circle cx="466.8" cy="811" r="4.8" stroke="#111" stroke-width="1" fill="none"/>
<line x1="105" y1="754.5" x2="141.2" y2="754.5" stroke="#1a1a1a" stroke-width="1" />
<line x1="105" y1="820.5" x2="141.2" y2="820.5" stroke="#1a1a1a" stroke-width="1" />
<line x1="106.5" y1="754" x2="106.5" y2="820.2" stroke="#1a1a1a" stroke-width="1" />
<path d="M106.5,754 L108.6,765 L104.4,765 Z" fill="#1a1a1a" stroke="#1a1a1a" stroke-width="0.5" stroke-linejoin="miter"/>
<path d="M106.5,820.2 L104.4,809.2 L108.6,809.2 Z" fill="#1a1a1a" stroke="#1a1a1a" stroke-width="0.5" stroke-linejoin="miter"/>
<line x1="132.8" y1="776.5" x2="141.2" y2="776.5" stroke="#1a1a1a" stroke-width="1" />
<line x1="132.8" y1="798.5" x2="141.2" y2="798.5" stroke="#1a1a1a" stroke-width="1" />
<line x1="132.5" y1="758" x2="132.5" y2="776" stroke="#1a1a1a" stroke-width="1" />
<path d="M132.8,776 L130.7,765 L134.9,765 Z" fill="#1a1a1a" stroke="#1a1a1a" stroke-width="0.5" stroke-linejoin="miter"/>
<line x1="132.5" y1="798.6" x2="132.5" y2="816.6" stroke="#1a1a1a" stroke-width="1" />
<path d="M132.8,798.6 L134.9,809.6 L130.7,809.6 Z" fill="#1a1a1a" stroke="#1a1a1a" stroke-width="0.5" stroke-linejoin="miter"/>
<path d="M379.3,719.3 L235.2,719.3 L198.8,753.4" stroke="#1a1a1a" stroke-width="1" fill="none" />
<path d="M198.8,753.4 L205.33,744.28 L208.33,747.49 Z" fill="#1a1a1a" stroke="#1a1a1a" stroke-width="0.5" stroke-linejoin="miter"/>
<path d="M279,760.4 L423.7,760.4 L464.2,807.6" stroke="#1a1a1a" stroke-width="1" fill="none" />
<path d="M464.2,807.6 L455.37,800.68 L458.71,797.82 Z" fill="#1a1a1a" stroke="#1a1a1a" stroke-width="0.5" stroke-linejoin="miter"/>
<line x1="476" y1="763.5" x2="513.8" y2="763.5" stroke="#1a1a1a" stroke-width="1" />
<line x1="476" y1="811.5" x2="513.8" y2="811.5" stroke="#1a1a1a" stroke-width="1" />
<line x1="511.5" y1="763.4" x2="511.5" y2="811" stroke="#1a1a1a" stroke-width="1" />
<path d="M511.8,763.4 L513.9,774.4 L509.7,774.4 Z" fill="#1a1a1a" stroke="#1a1a1a" stroke-width="0.5" stroke-linejoin="miter"/>
<path d="M511.8,811 L509.7,800 L513.9,800 Z" fill="#1a1a1a" stroke="#1a1a1a" stroke-width="0.5" stroke-linejoin="miter"/>
<line x1="151.5" y1="831.5" x2="151.5" y2="873" stroke="#1a1a1a" stroke-width="1" />
<line x1="192.5" y1="831.5" x2="192.5" y2="848" stroke="#1a1a1a" stroke-width="1" />
<line x1="410.5" y1="809" x2="410.5" y2="873.4" stroke="#1a1a1a" stroke-width="1" />
<line x1="466.5" y1="822" x2="466.5" y2="848" stroke="#1a1a1a" stroke-width="1" />
<line x1="192.6" y1="847.5" x2="466.8" y2="847.5" stroke="#1a1a1a" stroke-width="1" />
<path d="M192.6,847.7 L203.6,845.6 L203.6,849.8 Z" fill="#1a1a1a" stroke="#1a1a1a" stroke-width="0.5" stroke-linejoin="miter"/>
<path d="M410.5,847.7 L399.5,849.8 L399.5,845.6 Z" fill="#1a1a1a" stroke="#1a1a1a" stroke-width="0.5" stroke-linejoin="miter"/>
<path d="M410.5,847.7 L421.5,845.6 L421.5,849.8 Z" fill="#1a1a1a" stroke="#1a1a1a" stroke-width="0.5" stroke-linejoin="miter"/>
<path d="M466.8,847.7 L455.8,849.8 L455.8,845.6 Z" fill="#1a1a1a" stroke="#1a1a1a" stroke-width="0.5" stroke-linejoin="miter"/>
<line x1="151.1" y1="872.5" x2="410.5" y2="872.5" stroke="#1a1a1a" stroke-width="1" />
<path d="M151.1,872.8 L162.1,870.7 L162.1,874.9 Z" fill="#1a1a1a" stroke="#1a1a1a" stroke-width="0.5" stroke-linejoin="miter"/>
<path d="M410.5,872.8 L399.5,874.9 L399.5,870.7 Z" fill="#1a1a1a" stroke="#1a1a1a" stroke-width="0.5" stroke-linejoin="miter"/>
</svg>
</body></html>
